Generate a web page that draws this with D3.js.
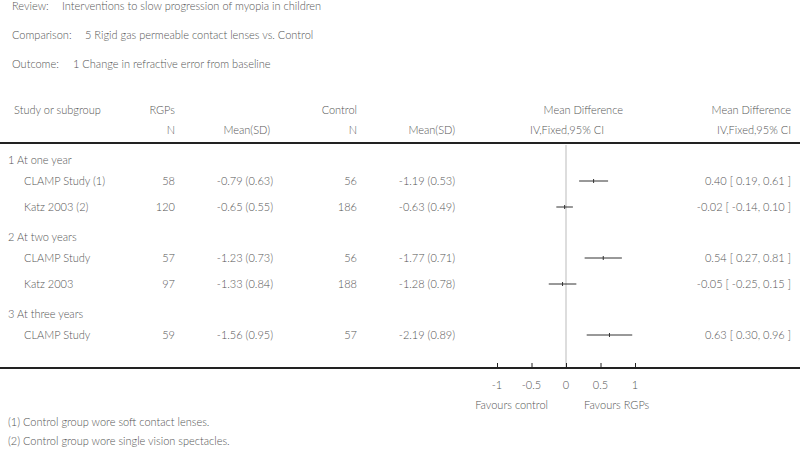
<!DOCTYPE html>
<html>
<head>
<meta charset="utf-8">
<script src="https://cdn.jsdelivr.net/npm/d3@7"></script>
<style>
body{margin:0;background:#fff;}
svg text{font-family:Lato,"Open Sans",sans-serif;font-size:11px;fill:#555;font-weight:300;}
</style>
</head>
<body>
<svg width="800" height="452"></svg>
<script>
// forest plot data
var groups = ['1 At one year','2 At two years','3 At three years'];
var studies = ['CLAMP Study (1)','Katz 2003 (2)','CLAMP Study','Katz 2003','CLAMP Study'];
var studyGroup = [0,0,1,1,2];
var rgpN = [58,120,57,97,59];
var rgpMeanSD = ['-0.79 (0.63)','-0.65 (0.55)','-1.23 (0.73)','-1.33 (0.84)','-1.56 (0.95)'];
var ctrlN = [56,186,56,188,57];
var ctrlMeanSD = ['-1.19 (0.53)','-0.63 (0.49)','-1.77 (0.71)','-1.28 (0.78)','-2.19 (0.89)'];
var md = [0.40,-0.02,0.54,-0.05,0.63];
var lo = [0.19,-0.14,0.27,-0.25,0.30];
var hi = [0.61,0.10,0.81,0.15,0.96];
var ticks = [-1,-0.5,0,0.5,1];
var footnotes = ['(1) Control group wore soft contact lenses.','(2) Control group wore single vision spectacles.'];

var svg = d3.select('svg');
var W = +svg.attr('width');
var f2 = v => v.toFixed(2);

// header info
var info = [['Review:','Interventions to slow progression of myopia in children',62],
	['Comparison:','5 Rigid gas permeable contact lenses vs. Control',85],
	['Outcome:','1 Change in refractive error from baseline',73]];
info.forEach(function(d,i){
	var y = 10 + i*29;
	svg.append('text').attr('x',12).attr('y',y).text(d[0]);
	svg.append('text').attr('x',d[2]).attr('y',y).text(d[1]);
});

// column headers
var h1 = 114, h2 = 134;
svg.append('text').attr('x',14).attr('y',h1).text('Study or subgroup');
svg.append('text').attr('x',175).attr('y',h1).attr('text-anchor','end').text('RGPs');
svg.append('text').attr('x',175).attr('y',h2).attr('text-anchor','end').text('N');
svg.append('text').attr('x',270).attr('y',h2).attr('text-anchor','end').text('Mean(SD)');
svg.append('text').attr('x',357).attr('y',h1).attr('text-anchor','end').text('Control');
svg.append('text').attr('x',357).attr('y',h2).attr('text-anchor','end').text('N');
svg.append('text').attr('x',455).attr('y',h2).attr('text-anchor','end').text('Mean(SD)');
svg.append('text').attr('x',623).attr('y',h1).attr('text-anchor','end').text('Mean Difference');
svg.append('text').attr('x',604).attr('y',h2).attr('text-anchor','end').text('IV,Fixed,95% CI');
svg.append('text').attr('x',791).attr('y',h1).attr('text-anchor','end').text('Mean Difference');
svg.append('text').attr('x',791).attr('y',h2).attr('text-anchor','end').text('IV,Fixed,95% CI');

svg.append('line').attr('x1',0).attr('x2',W).attr('y1',143).attr('y2',143)
	.attr('stroke','#222').attr('stroke-width',2);

// row layout
var rowY = [], groupY = [];
var y = 160;
groups.forEach(function(g,gi){
	groupY.push(y);
	var k = 0;
	studies.forEach(function(s,i){
		if(studyGroup[i]===gi){
			rowY[i] = y + 21 + k*26;
			k++;
		}
	});
	y = y + 21 + k*26 + 4;
});

var x = d3.scaleLinear().domain([-1,1]).range([497,635]);
var axisY = 368;

// zero line
svg.append('line').attr('x1',x(0)).attr('x2',x(0)).attr('y1',145).attr('y2',axisY)
	.attr('stroke','#bbb').attr('stroke-width',1);

groups.forEach(function(g,i){
	svg.append('text').attr('x',8).attr('y',groupY[i]+4).text(g);
});

var rows = svg.append('g').selectAll('g').data(studies).enter().append('g')
	.attr('transform',(d,i)=>`translate(0,${rowY[i]+4})`);
rows.append('text').attr('x',24).text(d=>d);
rows.append('text').attr('x',175).attr('text-anchor','end').text((d,i)=>rgpN[i]);
rows.append('text').attr('x',273).attr('text-anchor','end').text((d,i)=>rgpMeanSD[i]);
rows.append('text').attr('x',357).attr('text-anchor','end').text((d,i)=>ctrlN[i]);
rows.append('text').attr('x',455).attr('text-anchor','end').text((d,i)=>ctrlMeanSD[i]);
rows.append('text').attr('x',791).attr('text-anchor','end')
	.text((d,i)=>f2(md[i])+' [ '+f2(lo[i])+', '+f2(hi[i])+' ]');

// CI lines
var ci = svg.append('g').selectAll('g').data(studies).enter().append('g');
ci.append('line').attr('x1',(d,i)=>x(lo[i])).attr('x2',(d,i)=>x(hi[i]))
	.attr('y1',(d,i)=>rowY[i]).attr('y2',(d,i)=>rowY[i]).attr('stroke','#333').attr('stroke-width',1);
ci.append('line').attr('x1',(d,i)=>x(md[i])).attr('x2',(d,i)=>x(md[i]))
	.attr('y1',(d,i)=>rowY[i]-2).attr('y2',(d,i)=>rowY[i]+2).attr('stroke','#333').attr('stroke-width',1);

// bottom axis
svg.append('line').attr('x1',0).attr('x2',W).attr('y1',axisY).attr('y2',axisY)
	.attr('stroke','#222').attr('stroke-width',2);
var ax = svg.append('g').attr('transform',`translate(0,${axisY-1})`)
	.call(d3.axisTop(x).tickValues(ticks).tickSize(4));
ax.select('.domain').remove();
ax.selectAll('.tick line').attr('stroke','#222');
ax.selectAll('.tick text').remove();
svg.append('g').selectAll('text').data(ticks).enter().append('text')
	.attr('x',d=>x(d)).attr('y',389).attr('text-anchor','middle').text(d=>String(d));

svg.append('text').attr('x',548).attr('y',409).attr('text-anchor','end').text('Favours control');
svg.append('text').attr('x',584).attr('y',409).text('Favours RGPs');

footnotes.forEach(function(f,i){
	svg.append('text').attr('x',8).attr('y',426+i*19).text(f);
});
</script>
</body>
</html>
